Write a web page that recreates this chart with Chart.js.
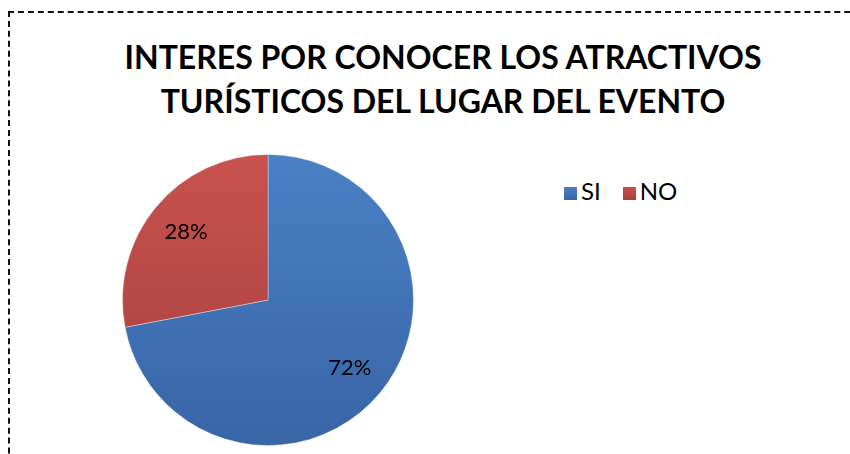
<!DOCTYPE html>
<html>
<head>
<meta charset="utf-8">
<script src="https://cdn.jsdelivr.net/npm/chart.js@4/dist/chart.umd.min.js"></script>
<style>
  html, body { margin: 0; padding: 0; background: #fff; overflow: hidden; }
  body { width: 850px; height: 454px; position: relative; }
  #frame {
    position: absolute; left: 8px; top: 11px; width: 900px; height: 500px;
    border-left: 2px dashed #111; border-top: 2px dashed #111;
  }
  #title {
    position: absolute; left: 0; top: 35px; width: 886px; text-align: center;
    font-family: Lato, sans-serif; font-weight: bold; font-size: 32px;
    line-height: 44px; color: #000;
  }
  #pieBox { position: absolute; left: 121px; top: 154px; width: 294px; height: 292px; }
  #legend {
    position: absolute; left: 564px; top: 177px; display: flex; align-items: center;
    font-family: Lato, sans-serif; font-size: 24px; color: #000; line-height: 28px;
  }
  #legend span.item { display: flex; align-items: center; margin-right: 22px; }
  #legend span.box {
    display: inline-block; width: 13px; height: 13px; margin-right: 4px; margin-top: 4px;
  }
</style>
</head>
<body>
<div id="frame"></div>
<div id="title">INTERES POR CONOCER LOS ATRACTIVOS<br>TURÍSTICOS DEL LUGAR DEL EVENTO</div>
<div id="pieBox"><canvas id="myChart"></canvas></div>
<div id="legend"></div>
<script>
'use strict';
// data
const labels = ['SI', 'NO'];
const values = [72, 28];
const topColors = ['#4a80c6', '#c8524f'];
const bottomColors = ['#3865a6', '#a63f3c'];

// vertical gradient per slice, like the office shading
function sliceColor(context) {
  const i = context.dataIndex;
  const area = context.chart.chartArea;
  if (!area) {
    return topColors[i];
  }
  const g = context.chart.ctx.createLinearGradient(0, area.top, 0, area.bottom);
  g.addColorStop(0, topColors[i]);
  g.addColorStop(1, bottomColors[i]);
  return g;
}

// percent labels inside the slices
const percentLabels = {
  id: 'percentLabels',
  afterDatasetsDraw(chart) {
    const ctx = chart.ctx;
    const meta = chart.getDatasetMeta(0);
    const total = values.reduce((a, b) => a + b, 0);
    ctx.save();
    ctx.font = '22px Lato, sans-serif';
    ctx.fillStyle = '#000';
    ctx.textAlign = 'center';
    ctx.textBaseline = 'middle';
    meta.data.forEach((arc, i) => {
      const p = arc.getProps(['x', 'y', 'startAngle', 'endAngle', 'outerRadius'], true);
      const mid = (p.startAngle + p.endAngle) / 2;
      const r = p.outerRadius * 0.73;
      const pct = Math.round(values[i] / total * 100) + '%';
      ctx.fillText(pct, p.x + Math.cos(mid) * r, p.y + Math.sin(mid) * r);
    });
    ctx.restore();
  }
};

const ctx = document.getElementById('myChart').getContext('2d');
new Chart(ctx, {
  type: 'pie',
  data: {
    labels: labels,
    datasets: [{
      data: values,
      backgroundColor: sliceColor,
      borderColor: 'rgba(255,255,255,0.35)',
      borderWidth: 1,
    }],
  },
  options: {
    responsive: true,
    maintainAspectRatio: false,
    animation: false,
    layout: { padding: 0 },
    plugins: {
      legend: { display: false },
      tooltip: { enabled: false },
    },
  },
  plugins: [percentLabels],
});

// legend built from the same arrays
const legend = document.getElementById('legend');
for (let i = 0; i < labels.length; i++) {
  const item = document.createElement('span');
  item.className = 'item';
  const box = document.createElement('span');
  box.className = 'box';
  box.style.background = 'linear-gradient(' + topColors[i] + ',' + bottomColors[i] + ')';
  item.appendChild(box);
  item.appendChild(document.createTextNode(labels[i]));
  legend.appendChild(item);
}
</script>
</body>
</html>
